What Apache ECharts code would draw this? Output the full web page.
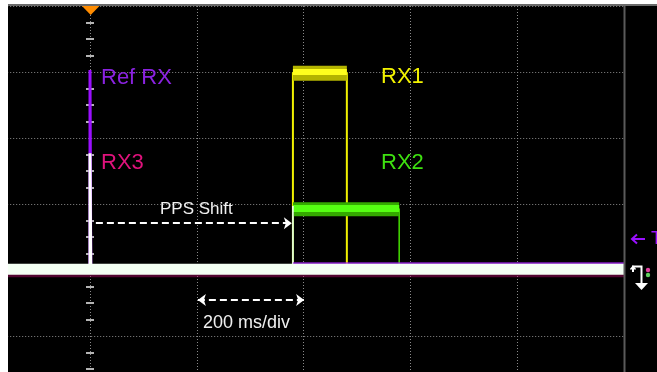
<!DOCTYPE html>
<html>
<head>
<meta charset="utf-8">
<script src="https://cdn.jsdelivr.net/npm/echarts@6/dist/echarts.min.js"></script>
<style>
html,body{margin:0;padding:0;background:#fff;}
#chart{width:657px;height:372px;}
</style>
</head>
<body>
<div id="chart"></div>
<script>
// Time axis in ms (200 ms/div), vertical axis in divisions
const xTicks = { min: -200, max: 1000, interval: 200 };
const yTicks = { min: -2, max: 4, interval: 1 };

// Traces: [time ms, level div]
const baselineT = [-160, 1000];
const baselineV = [0.01, 0.01];

const refRx = [[0, 0], [0, 3.03], [1.5, 3.03], [1.5, 0]];
const rx3   = [[0, 0], [0, 1.77], [1.5, 1.77], [1.5, 0]];
const ppsEdge = [[380, 0], [380, 0.97]];

const rx1 = [[-160, 0], [380, 0], [380, 2.98], [481, 2.98], [481, 0], [1000, 0]];
const rx1High = [[380, 2.98], [481, 2.98]];
const rx1Core = [[380, 3.0], [481, 3.0]];

const rx2 = [[-160, 0], [380, 0], [380, 0.92], [579, 0.92], [579, 0], [1000, 0]];
const rx2High = [[380, 0.92], [579, 0.92]];
const rx2Core = [[380, 0.93], [579, 0.93]];

const refBaseAfter = [[380, 0.04], [1000, 0.04]];

// Annotations (data coords)
const ppsShift = [[11, 0.71], [378, 0.71]];
const divArrow = [[202, -0.455], [401, -0.455]];

const labels = ['Ref RX', 'RX3', 'RX1', 'RX2', 'PPS Shift', '200 ms/div'];

const chart = echarts.init(document.getElementById('chart'), null, { renderer: 'canvas' });

const dotted = { type: [1, 2], color: '#8a8a8a', width: 1 };
const tickStyle = { color: '#b4b4b4', width: 2 };
function line(name, data, color, width, z, opacity) {
  return { name, type: 'line', data, symbol: 'none', z: z || 2, silent: true,
    lineStyle: { color, width, cap: 'butt', join: 'miter', opacity: opacity == null ? 1 : opacity },
    xAxisIndex: 0, yAxisIndex: 0 };
}
const baseline = baselineT.map((t, i) => [t, baselineV[i]]);

const option = {
  animation: false,
  backgroundColor: '#000',
  grid: { left: -16.8, top: 6, width: 640.8, height: 396, containLabel: false, outerBoundsMode: 'none' },
  xAxis: [{
    type: 'value', min: xTicks.min, max: xTicks.max, interval: xTicks.interval,
    axisLine: { show: false }, axisTick: { show: false }, axisLabel: { show: false },
    splitLine: { show: true, lineStyle: dotted }
  }],
  yAxis: [{
    type: 'value', min: yTicks.min, max: yTicks.max, interval: yTicks.interval, position: 'left',
    axisLine: { show: false, onZero: true }, axisLabel: { show: false },
    axisTick: { show: false, inside: true, length: 4, lineStyle: tickStyle },
    minorTick: { show: true, splitNumber: 4, length: 4, lineStyle: tickStyle },
    splitLine: { show: true, lineStyle: dotted }
  }, {
    type: 'value', min: yTicks.min, max: yTicks.max, interval: yTicks.interval, position: 'right',
    offset: -534,
    axisLine: { show: false, onZero: false }, axisLabel: { show: false },
    axisTick: { show: false, inside: true, length: 4, lineStyle: tickStyle },
    minorTick: { show: true, splitNumber: 4, length: 4, lineStyle: tickStyle },
    splitLine: { show: false }
  }],
  series: [
    line('RX1', rx1, '#f0f000', 2, 3),
    line('RX1 band outer', rx1High, '#b4b400', 15, 4),
    line('RX1 band', rx1Core, '#ffff1e', 6, 5),
    line('RX2', rx2, '#44dd00', 1.5, 6),
    line('RX2 band outer', rx2High, '#34a800', 14, 7),
    line('RX2 band', rx2Core, '#55ff12', 7, 8),
    line('Ref RX', refRx, '#9a10ff', 3, 9),
    line('RX3 pulse', rx3, '#ffffff', 3, 10),
    line('PPS edge', ppsEdge, '#ffffff', 1.5, 10),
    line('Ref base', refBaseAfter, '#a020f0', 10, 11, 0.8),
    line('RX3 base', baseline.map(p => [p[0], p[1] - 0.03]), '#d0107a', 12, 12, 0.4),
    line('Base', baseline, '#f4fff4', 11, 13),
    {
      name: 'arrows', type: 'line', data: [], symbol: 'none', z: 14, silent: true,
      markLine: {
        silent: true, animation: false,
        label: { show: false },
        lineStyle: { color: '#ffffff', width: 2, type: [7, 4] },
        symbolSize: [9, 8],
        data: [
          [{ coord: ppsShift[0], symbol: 'none' }, { coord: ppsShift[1], symbol: 'arrow' }],
          [{ coord: divArrow[0], symbol: 'arrow' }, { coord: divArrow[1], symbol: 'arrow' }]
        ]
      }
    }
  ],
  graphic: [
    { type: 'rect', shape: { x: 0, y: 0, width: 8, height: 372 }, style: { fill: '#fff' }, z: 100 },
    { type: 'rect', shape: { x: 0, y: 0, width: 657, height: 4 }, style: { fill: '#fff' }, z: 100 },
    { type: 'line', shape: { x1: 8, y1: 5, x2: 657, y2: 5 }, style: { stroke: '#6a6a6a', lineWidth: 2 }, z: 100 },
    { type: 'rect', shape: { x: 625, y: 6, width: 32, height: 366 }, style: { fill: '#000' }, z: 90 },
    { type: 'line', shape: { x1: 624.5, y1: 6, x2: 624.5, y2: 372 }, style: { stroke: '#5a5a5a', lineWidth: 2 }, z: 100 },
    { type: 'polygon', shape: { points: [[82, 6], [99.5, 6], [90.7, 15]] }, style: { fill: '#ff8c00' }, z: 100 },
    // channel labels
    { type: 'text', x: 101, y: 78, style: { text: labels[0], fill: '#8a22e0', font: '22px "Liberation Sans", Arial, sans-serif', textVerticalAlign: 'middle' }, z: 100 },
    { type: 'text', x: 101, y: 163, style: { text: labels[1], fill: '#e0127c', font: '22px "Liberation Sans", Arial, sans-serif', textVerticalAlign: 'middle' }, z: 100 },
    { type: 'text', x: 381, y: 77, style: { text: labels[2], fill: '#f2f200', font: '22px "Liberation Sans", Arial, sans-serif', textVerticalAlign: 'middle' }, z: 100 },
    { type: 'text', x: 381, y: 163, style: { text: labels[3], fill: '#3ee010', font: '22px "Liberation Sans", Arial, sans-serif', textVerticalAlign: 'middle' }, z: 100 },
    { type: 'text', x: 160, y: 209, style: { text: labels[4], fill: '#f0f0f0', font: '17px "Liberation Sans", Arial, sans-serif', textVerticalAlign: 'middle' }, z: 100 },
    { type: 'text', x: 203, y: 323.5, style: { text: labels[5], fill: '#f0f0f0', font: '18px "Liberation Sans", Arial, sans-serif', textVerticalAlign: 'middle' }, z: 100 },
    // right-side markers
    { type: 'line', shape: { x1: 632, y1: 239, x2: 645, y2: 239 }, style: { stroke: '#9a10ff', lineWidth: 2 }, z: 100 },
    { type: 'polyline', shape: { points: [[637, 234.5], [632, 239], [637, 243.5]] }, style: { stroke: '#9a10ff', lineWidth: 2, fill: null }, z: 100 },
    { type: 'text', x: 651, y: 239, style: { text: 'T', fill: '#9a10ff', font: '18px "Liberation Sans", Arial, sans-serif', textVerticalAlign: 'middle' }, z: 100 },
    { type: 'polyline', shape: { points: [[633, 272], [633, 266.5], [641.5, 266.5], [641.5, 284]] }, style: { stroke: '#ffffff', lineWidth: 2, fill: null }, z: 100 },
    { type: 'polyline', shape: { points: [[630.5, 269.5], [633, 266.5], [635.5, 269.5]] }, style: { stroke: '#ffffff', lineWidth: 1.5, fill: null }, z: 100 },
    { type: 'polygon', shape: { points: [[635, 283], [648, 283], [641.5, 290]] }, style: { fill: '#ffffff' }, z: 100 },
    { type: 'circle', shape: { cx: 648, cy: 270, r: 2.2 }, style: { fill: '#e040a0' }, z: 100 },
    { type: 'circle', shape: { cx: 648, cy: 275, r: 2.2 }, style: { fill: '#60d060' }, z: 100 }
  ]
};
chart.setOption(option);
</script>
</body>
</html>
